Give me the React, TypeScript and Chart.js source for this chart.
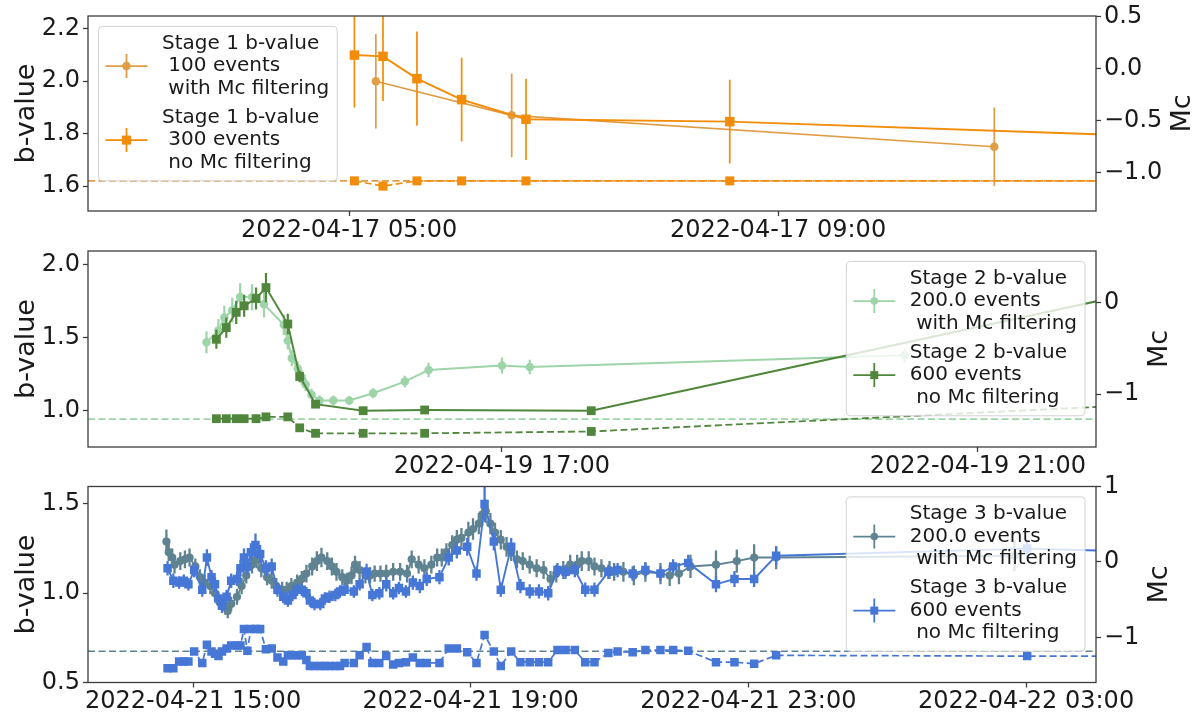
import React, { useEffect, useRef } from 'react';
import { Chart, registerables } from 'chart.js';

Chart.register(...registerables);

const FONT_FAMILY = '"DejaVu Sans", Verdana, sans-serif';
const TEXT = '#1a1a1a';
const SPINE = '#3d3d3d';

// ---------- Stage 1 (2022-04-17) ----------
const s1Base = '2022-04-17';
const s1XTicks = ['2022-04-17 05:00', '2022-04-17 09:00'];
const s1BTicks = [1.6, 1.8, 2.0, 2.2];
const s1McTicks = [-1.0, -0.5, 0.0, 0.5];

const s1FiltTimes = ['05:15', '06:31', '11:01'];
const s1FiltB = [2.0, 1.87, 1.75];
const s1FiltErr = [0.18, 0.16, 0.15];
const s1FiltMcLevel = -1.08;

const s1RawTimes = ['05:03', '05:19', '05:38', '06:03', '06:39', '08:33', '12:30'];
const s1RawB = [2.1, 2.095, 2.01, 1.93, 1.855, 1.846, 1.79];
const s1RawErr = [0.2, 0.17, 0.18, 0.16, 0.155, 0.16, 0.15];
const s1RawMc = [-1.08, -1.13, -1.08, -1.08, -1.08, -1.08, -1.08];

// ---------- Stage 2 (2022-04-19) ----------
const s2Base = '2022-04-19';
const s2XTicks = ['2022-04-19 17:00', '2022-04-19 21:00'];
const s2BTicks = [1.0, 1.5, 2.0];
const s2McTicks = [-1, 0];

const s2FiltTimes = [
  '14:31', '14:37', '14:40', '14:44', '14:48', '14:54', '15:00', '15:10', '15:12', '15:14',
  '15:17', '15:19', '15:21', '15:24', '15:28', '15:35', '15:43', '15:55', '16:11', '16:23',
  '17:00', '17:14', '20:23',
];
const s2FiltB = [
  1.47, 1.55, 1.64, 1.69, 1.78, 1.78, 1.73, 1.59, 1.48, 1.36,
  1.29, 1.23, 1.18, 1.11, 1.07, 1.07, 1.07, 1.12, 1.2, 1.28,
  1.31, 1.3, 1.38,
];
const s2FiltErr = [
  0.075, 0.08, 0.08, 0.085, 0.095, 0.09, 0.09, 0.07, 0.06, 0.055,
  0.05, 0.05, 0.045, 0.04, 0.035, 0.035, 0.03, 0.035, 0.04, 0.05,
  0.055, 0.05, 0.05,
];
const s2FiltMcLevel = -1.275;

const s2RawTimes = ['14:36', '14:41', '14:46', '14:50', '14:56', '15:01', '15:12', '15:18', '15:26', '15:50', '16:21', '17:45', '22:30'];
const s2RawB = [1.49, 1.57, 1.675, 1.72, 1.77, 1.845, 1.595, 1.235, 1.045, 1.0, 1.005, 1.0, 1.84];
const s2RawErr = [0.065, 0.07, 0.08, 0.075, 0.075, 0.1, 0.07, 0.04, 0.02, 0.015, 0.015, 0.015, 0.02];
const s2RawMc = [-1.27, -1.27, -1.27, -1.27, -1.27, -1.25, -1.25, -1.37, -1.43, -1.43, -1.43, -1.41, -1.11];

// ---------- Stage 3 (2022-04-21 into 2022-04-22) ----------
const s3Base = '2022-04-21';
const s3XTicks = ['2022-04-21 15:00', '2022-04-21 19:00', '2022-04-21 23:00', '2022-04-22 03:00'];
const s3BTicks = [0.5, 1.0, 1.5];
const s3McTicks = [-1, 0, 1];

const s3FiltTimes = [
  '14:37', '14:39', '14:42', '14:44', '14:49', '14:53', '14:57', '15:02', '15:06', '15:10',
  '15:15', '15:19', '15:23', '15:28', '15:30', '15:33', '15:38', '15:42', '15:46', '15:51',
  '15:55', '15:59', '16:04', '16:08', '16:12', '16:17', '16:21', '16:25', '16:30', '16:34',
  '16:38', '16:43', '16:47', '16:51', '16:56', '17:00', '17:04', '17:09', '17:13', '17:17',
  '17:20', '17:24', '17:29', '17:33', '17:37', '17:42', '17:47', '17:53', '17:59', '18:05',
  '18:09', '18:15', '18:20', '18:26', '18:31', '18:35', '18:39', '18:44', '18:48', '18:52',
  '18:58', '19:02', '19:07', '19:10', '19:13', '19:17', '19:21', '19:26', '19:31', '19:35',
  '19:40', '19:45', '19:51', '19:57', '20:03', '20:09', '20:14', '20:20', '20:26', '20:32',
  '20:36', '20:42', '20:47', '20:53', '21:00', '21:04', '21:12', '21:21', '21:31', '21:44',
  '21:52', '22:00', '22:10', '22:32', '22:50', '23:05', '23:24', '02:50',
];
const s3FiltB = [
  1.29, 1.23, 1.2, 1.16, 1.18, 1.19, 1.2, 1.15, 1.09, 1.06,
  1.04, 1.0, 0.95, 0.92, 0.9, 0.94, 0.98, 1.04, 1.1, 1.16,
  1.19, 1.14, 1.09, 1.07, 1.04, 1.02, 1.02, 1.04, 1.06, 1.08,
  1.11, 1.15, 1.18, 1.2, 1.18, 1.15, 1.12, 1.09, 1.07, 1.1,
  1.16, 1.13, 1.1, 1.1, 1.11, 1.11, 1.11, 1.12, 1.12, 1.11,
  1.19, 1.16, 1.14, 1.16, 1.2, 1.2, 1.23, 1.27, 1.3, 1.31,
  1.34, 1.36, 1.39, 1.44, 1.46, 1.39, 1.34, 1.3, 1.26, 1.23,
  1.19, 1.18, 1.16, 1.14, 1.13, 1.08, 1.11, 1.13, 1.16, 1.16,
  1.18, 1.18, 1.15, 1.14, 1.13, 1.12, 1.12, 1.1, 1.12, 1.11,
  1.1, 1.11, 1.15, 1.16, 1.18, 1.2, 1.2, 1.21,
];
const s3FiltErr = [
  0.067, 0.05, 0.05, 0.05, 0.05, 0.05, 0.05, 0.045, 0.045, 0.045,
  0.045, 0.045, 0.04, 0.04, 0.04, 0.04, 0.045, 0.045, 0.045, 0.05,
  0.05, 0.05, 0.045, 0.045, 0.045, 0.045, 0.045, 0.045, 0.045, 0.045,
  0.05, 0.05, 0.055, 0.055, 0.05, 0.05, 0.05, 0.045, 0.045, 0.05,
  0.05, 0.05, 0.045, 0.045, 0.045, 0.045, 0.05, 0.05, 0.05, 0.05,
  0.05, 0.05, 0.05, 0.05, 0.05, 0.05, 0.05, 0.055, 0.055, 0.055,
  0.06, 0.06, 0.06, 0.065, 0.065, 0.06, 0.055, 0.055, 0.055, 0.05,
  0.05, 0.05, 0.05, 0.05, 0.05, 0.045, 0.05, 0.05, 0.055, 0.055,
  0.055, 0.055, 0.05, 0.05, 0.05, 0.05, 0.055, 0.055, 0.055, 0.06,
  0.06, 0.06, 0.065, 0.08, 0.065, 0.075, 0.065, 0.085,
];
const s3FiltMcLevel = -1.185;

const s3RawTimes = [
  '14:38', '14:43', '14:48', '14:52', '14:56', '15:01', '15:08', '15:12', '15:16', '15:19',
  '15:22', '15:25', '15:29', '15:33', '15:38', '15:41', '15:44', '15:47', '15:50', '15:54',
  '15:58', '16:03', '16:08', '16:13', '16:18', '16:22', '16:26', '16:30', '16:34', '16:38',
  '16:41', '16:45', '16:50', '16:54', '16:58', '17:03', '17:07', '17:11', '17:19', '17:24',
  '17:30', '17:35', '17:41', '17:47', '17:53', '17:58', '18:04', '18:10', '18:16', '18:22',
  '18:33', '18:41', '18:48', '18:57', '19:05', '19:12', '19:20', '19:26', '19:35', '19:43',
  '19:51', '19:59', '20:07', '20:15', '20:22', '20:30', '20:39', '20:47', '20:59', '21:07',
  '21:20', '21:31', '21:44', '21:55', '22:08', '22:32', '22:48', '23:05', '23:24', '03:01',
  '04:56',
];
const s3RawB = [
  1.14, 1.07, 1.06, 1.07, 1.05, 1.13, 1.02, 1.2, 1.09, 1.05,
  0.97, 0.93, 0.98, 1.07, 1.08, 1.14, 1.2, 1.15, 1.23, 1.27,
  1.22, 1.14, 1.15, 1.02, 0.98, 0.96, 0.99, 1.02, 1.02, 1.0,
  0.96, 0.94, 0.94, 0.97, 0.98, 0.99, 1.01, 1.02, 1.01, 1.05,
  1.12, 0.99, 1.0, 1.05, 1.0, 1.03, 1.01, 1.06, 1.04, 1.08,
  1.09, 1.2, 1.24, 1.26, 1.11, 1.5, 1.29, 1.02, 1.26, 1.04,
  1.01, 1.01, 1.0, 1.13, 1.12, 1.13, 1.02, 1.02, 1.12, 1.13,
  1.11, 1.13, 1.11, 1.15, 1.17, 1.05, 1.08, 1.08, 1.21, 1.25,
  1.23,
];
const s3RawErr = [
  0.04, 0.04, 0.035, 0.035, 0.035, 0.04, 0.04, 0.047, 0.04, 0.04,
  0.04, 0.04, 0.04, 0.04, 0.04, 0.045, 0.05, 0.045, 0.05, 0.065,
  0.05, 0.045, 0.045, 0.04, 0.035, 0.035, 0.035, 0.035, 0.035, 0.035,
  0.035, 0.035, 0.035, 0.035, 0.035, 0.035, 0.035, 0.035, 0.035, 0.035,
  0.045, 0.035, 0.035, 0.04, 0.035, 0.035, 0.035, 0.04, 0.04, 0.04,
  0.04, 0.045, 0.045, 0.05, 0.04, 0.1, 0.05, 0.04, 0.05, 0.04,
  0.04, 0.04, 0.04, 0.04, 0.04, 0.04, 0.04, 0.04, 0.04, 0.04,
  0.04, 0.04, 0.04, 0.04, 0.045, 0.045, 0.045, 0.045, 0.05, 0.05,
  0.05,
];
const s3RawMc = [
  -1.41, -1.41, -1.32, -1.32, -1.32, -1.19, -1.34, -1.1, -1.19, -1.22,
  -1.25, -1.19, -1.15, -1.11, -1.11, -1.11, -0.89, -1.18, -0.89, -0.89,
  -0.89, -1.16, -1.15, -1.27, -1.32, -1.24, -1.24, -1.24, -1.24, -1.3,
  -1.38, -1.38, -1.38, -1.38, -1.38, -1.38, -1.38, -1.34, -1.34, -1.24,
  -1.13, -1.34, -1.34, -1.25, -1.36, -1.34, -1.33, -1.27, -1.34, -1.34,
  -1.34, -1.15, -1.15, -1.2, -1.34, -0.97, -1.19, -1.38, -1.19, -1.33,
  -1.33, -1.33, -1.33, -1.17, -1.17, -1.17, -1.33, -1.33, -1.21, -1.19,
  -1.2, -1.17, -1.17, -1.17, -1.18, -1.33, -1.33, -1.35, -1.24, -1.25,
  -1.25,
];

// ---------- helpers ----------
type Marker = 'circle' | 'rect';

function hoursSince(base: string, stamp: string): number {
  const [d, t] = stamp.split(' ');
  const [y, mo, da] = d.split('-').map(Number);
  const [h, mi] = t.split(':').map(Number);
  const [by, bm, bd] = base.split('-').map(Number);
  return (Date.UTC(y, mo - 1, da, h, mi) - Date.UTC(by, bm - 1, bd)) / 3600000;
}

// clock times within one stage; a time earlier than the previous one rolls over to the next day
function clockHours(times: string[]): number[] {
  let day = 0;
  let prev = -Infinity;
  return times.map((s) => {
    const [h, m] = s.split(':').map(Number);
    let v = h + m / 60 + day;
    if (v < prev) {
      day += 24;
      v += 24;
    }
    prev = v;
    return v;
  });
}

const fmtNum = (v: number, d: number) => v.toFixed(d).replace('-', '\u2212');

interface LegendEntry {
  lines: string[];
  color: string;
  marker: Marker;
  size: number;
}

interface PanelSpec {
  canvasTop: number;
  canvasHeight: number;
  padTop: number;
  xAxisHeight: number;
  base: string;
  xRange: [number, number];
  xTicks: string[];
  bRange: [number, number];
  bTicks: number[];
  bDecimals: number;
  mcRange: [number, number];
  mcTicks: number[];
  mcDecimals: number;
  mcTitleX: number;
  legendSide: 'left' | 'right';
  legend: LegendEntry[];
  datasets: any[];
}

function markerRadius(marker: Marker, size: number) {
  return marker === 'rect' ? size / Math.SQRT2 : size / 2;
}

function bSeries(xs: number[], ys: number[], errs: number[], color: string, marker: Marker, size: number, lw: number, errW: number) {
  return {
    data: xs.map((x, i) => ({ x, y: ys[i] })),
    yAxisID: 'yb',
    borderColor: color,
    backgroundColor: color,
    borderWidth: lw,
    pointStyle: marker,
    pointRadius: markerRadius(marker, size),
    pointBorderWidth: 0,
    pointBackgroundColor: color,
    tension: 0,
    errors: errs,
    errorWidth: errW,
  };
}

function mcSeries(xs: number[], ys: number[], color: string, marker: Marker, size: number, lw: number) {
  return {
    data: xs.map((x, i) => ({ x, y: ys[i] })),
    yAxisID: 'ymc',
    borderColor: color,
    backgroundColor: color,
    borderWidth: lw,
    borderDash: [7, 3.5],
    pointStyle: marker,
    pointRadius: markerRadius(marker, size),
    pointBorderWidth: 0,
    pointBackgroundColor: color,
    tension: 0,
  };
}

function mcLevel(range: [number, number], level: number, color: string, lw: number) {
  return {
    data: [
      { x: range[0], y: level },
      { x: range[1], y: level },
    ],
    yAxisID: 'ymc',
    borderColor: color,
    backgroundColor: color,
    borderWidth: lw,
    borderDash: [7, 3.5],
    pointRadius: 0,
    tension: 0,
  };
}

// ---------- colours ----------
const C1_FILT = '#e09d45';
const C1_RAW = '#f38c08';
const C2_FILT = '#9dd4a8';
const C2_RAW = '#50873c';
const C3_FILT = '#5f8391';
const C3_RAW = '#4677d6';

// ---------- panels ----------
const s1Range: [number, number] = [2.566, 11.965];
const s2Range: [number, number] = [13.521, 21.992];
const s3Range: [number, number] = [13.487, 28.008];

const s1FiltX = clockHours(s1FiltTimes);
const s1RawX = clockHours(s1RawTimes);
const s2FiltX = clockHours(s2FiltTimes);
const s2RawX = clockHours(s2RawTimes);
const s3FiltX = clockHours(s3FiltTimes);
const s3RawX = clockHours(s3RawTimes);

const panels: PanelSpec[] = [
  {
    canvasTop: 0,
    canvasHeight: 245,
    padTop: 16,
    xAxisHeight: 34,
    base: s1Base,
    xRange: s1Range,
    xTicks: s1XTicks,
    bRange: [1.505, 2.249],
    bTicks: s1BTicks,
    bDecimals: 1,
    mcRange: [-1.37, 0.508],
    mcTicks: s1McTicks,
    mcDecimals: 1,
    mcTitleX: 1183,
    legendSide: 'left',
    legend: [
      { lines: ['Stage 1 b-value', ' 100 events', ' with Mc filtering'], color: C1_FILT, marker: 'circle', size: 8.5 },
      { lines: ['Stage 1 b-value', ' 300 events', ' no Mc filtering'], color: C1_RAW, marker: 'rect', size: 9 },
    ],
    datasets: [
      bSeries(s1RawX, s1RawB, s1RawErr, C1_RAW, 'rect', 9.5, 2, 1.7),
      bSeries(s1FiltX, s1FiltB, s1FiltErr, C1_FILT, 'circle', 8.5, 1.6, 1.7),
      mcSeries(s1RawX, s1RawMc, C1_RAW, 'rect', 9, 1.6),
      mcLevel(s1Range, s1FiltMcLevel, C1_FILT, 1.6),
    ],
  },
  {
    canvasTop: 236,
    canvasHeight: 245,
    padTop: 15,
    xAxisHeight: 34,
    base: s2Base,
    xRange: s2Range,
    xTicks: s2XTicks,
    bRange: [0.751, 2.096],
    bTicks: s2BTicks,
    bDecimals: 1,
    mcRange: [-1.58, 0.566],
    mcTicks: s2McTicks,
    mcDecimals: 0,
    mcTitleX: 1160,
    legendSide: 'right',
    legend: [
      { lines: ['Stage 2 b-value', '200.0 events', ' with Mc filtering'], color: C2_FILT, marker: 'circle', size: 7.5 },
      { lines: ['Stage 2 b-value', '600 events', ' no Mc filtering'], color: C2_RAW, marker: 'rect', size: 8 },
    ],
    datasets: [
      bSeries(s2RawX, s2RawB, s2RawErr, C2_RAW, 'rect', 8.8, 2, 2.2),
      bSeries(s2FiltX, s2FiltB, s2FiltErr, C2_FILT, 'circle', 8.5, 2, 2.2),
      mcSeries(s2RawX, s2RawMc, C2_RAW, 'rect', 8.8, 1.8),
      mcLevel(s2Range, s2FiltMcLevel, C2_FILT, 1.6),
    ],
  },
  {
    canvasTop: 468,
    canvasHeight: 250,
    padTop: 18.5,
    xAxisHeight: 35.5,
    base: s3Base,
    xRange: s3Range,
    xTicks: s3XTicks,
    bRange: [0.5, 1.598],
    bTicks: s3BTicks,
    bDecimals: 1,
    mcRange: [-1.6, 1.0],
    mcTicks: s3McTicks,
    mcDecimals: 0,
    mcTitleX: 1160,
    legendSide: 'right',
    legend: [
      { lines: ['Stage 3 b-value', '200.0 events', ' with Mc filtering'], color: C3_FILT, marker: 'circle', size: 7.5 },
      { lines: ['Stage 3 b-value', '600 events', ' no Mc filtering'], color: C3_RAW, marker: 'rect', size: 8 },
    ],
    datasets: [
      bSeries(s3RawX, s3RawB, s3RawErr, C3_RAW, 'rect', 8.5, 1.9, 2.3),
      bSeries(s3FiltX, s3FiltB, s3FiltErr, C3_FILT, 'circle', 8.2, 1.9, 2.3),
      mcSeries(s3RawX, s3RawMc, C3_RAW, 'rect', 8.5, 1.7),
      mcLevel(s3Range, s3FiltMcLevel, C3_FILT, 1.6),
    ],
  },
];

// ---------- plugins ----------
const errorBarPlugin = {
  id: 'errorBars',
  beforeDatasetDraw(chart: any, args: any) {
    const ds = chart.data.datasets[args.index];
    if (!ds.errors) return;
    const { ctx, chartArea: a } = chart;
    const yScale = chart.scales[ds.yAxisID];
    ctx.save();
    ctx.beginPath();
    ctx.rect(a.left, a.top, a.right - a.left, a.bottom - a.top);
    ctx.clip();
    ctx.strokeStyle = ds.borderColor;
    ctx.lineWidth = ds.errorWidth;
    ctx.beginPath();
    args.meta.data.forEach((el: any, i: number) => {
      const v = ds.data[i].y;
      const e = ds.errors[i] ?? 0;
      ctx.moveTo(el.x, yScale.getPixelForValue(v + e));
      ctx.lineTo(el.x, yScale.getPixelForValue(v - e));
    });
    ctx.stroke();
    ctx.restore();
  },
};

function drawMarker(ctx: CanvasRenderingContext2D, marker: Marker, size: number, x: number, y: number) {
  ctx.beginPath();
  if (marker === 'rect') {
    ctx.rect(x - size / 2, y - size / 2, size, size);
  } else {
    ctx.arc(x, y, size / 2, 0, Math.PI * 2);
  }
  ctx.fill();
}

function drawLegend(ctx: CanvasRenderingContext2D, a: any, side: 'left' | 'right', entries: LegendEntry[]) {
  const lineH = 22.4;
  const entryStep = 74;
  const firstLine = 17.3;
  const bottomPad = 18.3;
  const textOffset = 63.5;
  ctx.font = `20px ${FONT_FAMILY}`;
  let textW = 0;
  entries.forEach((e) => e.lines.forEach((l) => (textW = Math.max(textW, ctx.measureText(l).width))));
  const w = textOffset + textW + 8;
  const h = firstLine + entryStep * (entries.length - 1) + lineH * 2 + bottomPad;
  const x0 = side === 'left' ? a.left + 10.5 : a.right - 11 - w;
  const y0 = a.top + 10.4;

  ctx.save();
  ctx.beginPath();
  ctx.roundRect(x0, y0, w, h, 4);
  ctx.fillStyle = 'rgba(255,255,255,0.8)';
  ctx.fill();
  ctx.strokeStyle = '#d2d2d2';
  ctx.lineWidth = 1;
  ctx.stroke();

  ctx.textAlign = 'left';
  ctx.textBaseline = 'middle';
  entries.forEach((e, k) => {
    const top = y0 + firstLine + k * entryStep;
    ctx.fillStyle = TEXT;
    e.lines.forEach((l, j) => ctx.fillText(l, x0 + textOffset, top + j * lineH));
    const hy = top + lineH;
    const mx = x0 + 28;
    ctx.strokeStyle = e.color;
    ctx.fillStyle = e.color;
    ctx.lineWidth = 1.8;
    ctx.beginPath();
    ctx.moveTo(x0 + 7, hy);
    ctx.lineTo(x0 + 49, hy);
    ctx.moveTo(mx, hy - 12);
    ctx.lineTo(mx, hy + 12);
    ctx.stroke();
    drawMarker(ctx, e.marker, e.size, mx, hy);
  });
  ctx.restore();
}

function decorPlugin(spec: PanelSpec) {
  return {
    id: 'panelDecor',
    afterDraw(chart: any) {
      const { ctx, chartArea: a } = chart;
      ctx.save();
      ctx.strokeStyle = SPINE;
      ctx.lineWidth = 1.3;
      ctx.strokeRect(a.left, a.top, a.right - a.left, a.bottom - a.top);

      ctx.fillStyle = TEXT;
      ctx.font = `27px ${FONT_FAMILY}`;
      ctx.textAlign = 'center';
      ctx.textBaseline = 'middle';
      const cy = (a.top + a.bottom) / 2;
      const titles: [string, number][] = [
        ['b-value', 27],
        ['Mc', spec.mcTitleX],
      ];
      titles.forEach(([text, x]) => {
        ctx.save();
        ctx.translate(x, cy);
        ctx.rotate(-Math.PI / 2);
        ctx.fillText(text, 0, 0);
        ctx.restore();
      });
      ctx.restore();

      drawLegend(ctx, a, spec.legendSide, spec.legend);
    },
  };
}

const tickFont = { family: FONT_FAMILY, size: 24 };
const tickGrid = { display: true, drawOnChartArea: false, drawTicks: true, tickLength: 5, tickWidth: 1.3, tickColor: SPINE };

function buildConfig(spec: PanelSpec): any {
  const xTickValues = spec.xTicks.map((s) => hoursSince(spec.base, s));
  return {
    type: 'line',
    data: { datasets: spec.datasets },
    options: {
      animation: false,
      responsive: false,
      events: [],
      layout: { padding: { top: spec.padTop, left: 0, right: 0, bottom: 0 } },
      plugins: { legend: { display: false }, tooltip: { enabled: false } },
      scales: {
        x: {
          type: 'linear',
          position: 'bottom',
          min: spec.xRange[0],
          max: spec.xRange[1],
          afterBuildTicks: (s: any) => {
            s.ticks = xTickValues.map((value) => ({ value }));
          },
          afterFit: (s: any) => {
            s.height = spec.xAxisHeight;
            s.paddingLeft = 0;
            s.paddingRight = 0;
          },
          ticks: {
            callback: (_v: any, i: number) => spec.xTicks[i],
            font: tickFont,
            color: TEXT,
            padding: 0,
            autoSkip: false,
            maxRotation: 0,
            minRotation: 0,
          },
          grid: tickGrid,
          border: { display: false },
        },
        yb: {
          type: 'linear',
          position: 'left',
          min: spec.bRange[0],
          max: spec.bRange[1],
          afterBuildTicks: (s: any) => {
            s.ticks = spec.bTicks.map((value) => ({ value }));
          },
          afterFit: (s: any) => {
            s.width = 88;
            s.paddingTop = 0;
            s.paddingBottom = 0;
          },
          ticks: {
            callback: (v: any) => fmtNum(Number(v), spec.bDecimals),
            font: tickFont,
            color: TEXT,
            padding: 3,
            autoSkip: false,
          },
          grid: tickGrid,
          border: { display: false },
        },
        ymc: {
          type: 'linear',
          position: 'right',
          min: spec.mcRange[0],
          max: spec.mcRange[1],
          afterBuildTicks: (s: any) => {
            s.ticks = spec.mcTicks.map((value) => ({ value }));
          },
          afterFit: (s: any) => {
            s.width = 107;
            s.paddingTop = 0;
            s.paddingBottom = 0;
          },
          ticks: {
            callback: (v: any) => fmtNum(Number(v), spec.mcDecimals),
            font: tickFont,
            color: TEXT,
            padding: 3,
            autoSkip: false,
          },
          grid: tickGrid,
          border: { display: false },
        },
      },
    },
    plugins: [errorBarPlugin, decorPlugin(spec)],
  };
}

function Panel({ spec }: { spec: PanelSpec }) {
  const ref = useRef<HTMLCanvasElement>(null);
  useEffect(() => {
    if (!ref.current) return;
    const chart = new Chart(ref.current, buildConfig(spec));
    return () => chart.destroy();
  }, [spec]);
  return (
    <canvas
      ref={ref}
      width={1203}
      height={spec.canvasHeight}
      style={{ position: 'absolute', left: 0, top: spec.canvasTop, width: 1203, height: spec.canvasHeight, display: 'block' }}
    />
  );
}

export default function App() {
  return (
    <div style={{ position: 'absolute', left: 0, top: 0, width: 1203, height: 718, background: '#ffffff', overflow: 'hidden' }}>
      {panels.map((p, i) => (
        <Panel key={i} spec={p} />
      ))}
    </div>
  );
}
